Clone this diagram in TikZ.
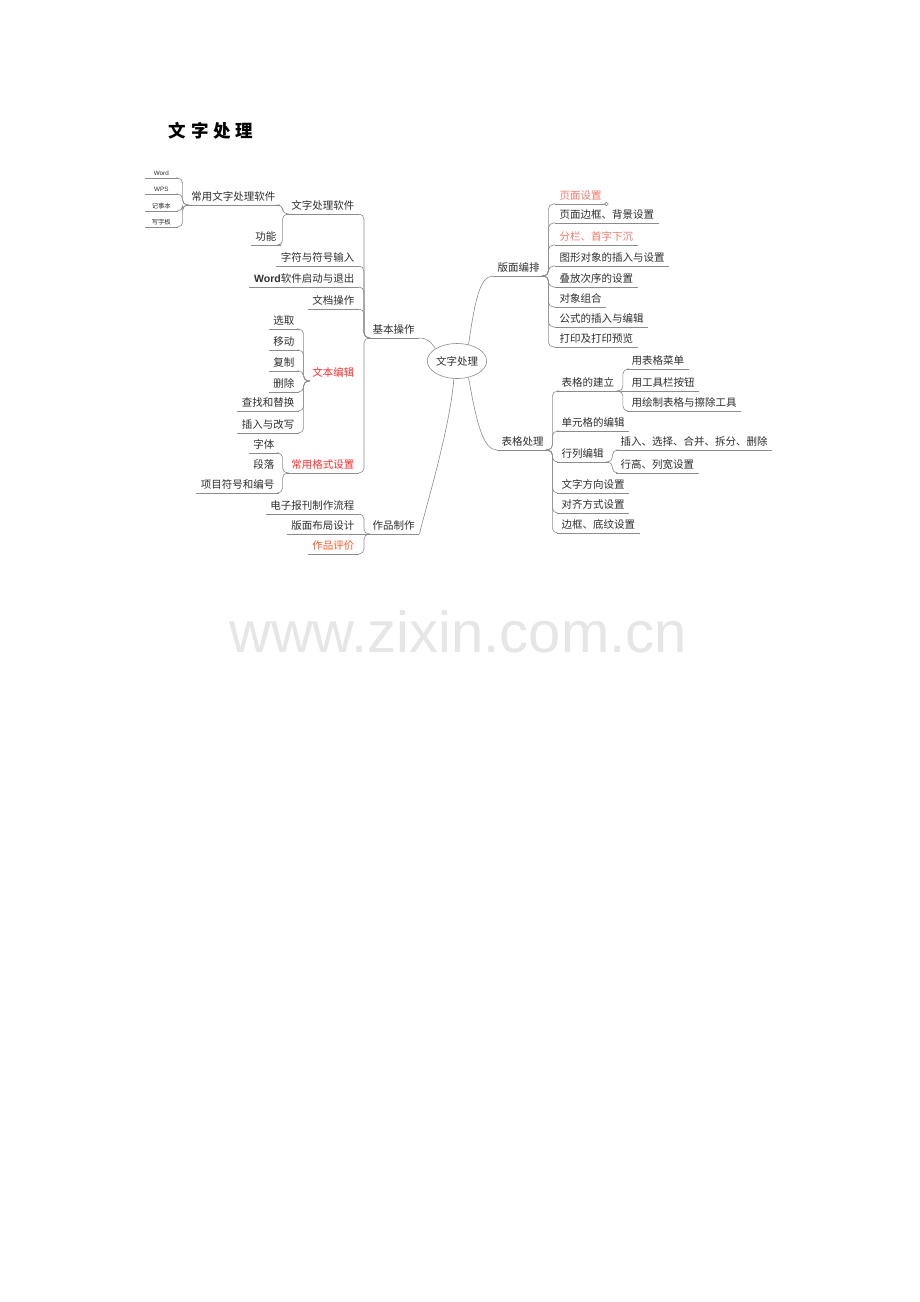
\documentclass[tikz,border=0pt]{standalone}
\usepackage{fontspec}
\usetikzlibrary{shapes.geometric}
\newfontfamily\cjk{Noto Sans CJK SC}
\newfontfamily\lat{Liberation Sans}
\definecolor{ln}{HTML}{8C8C8C}
\definecolor{txt}{HTML}{2E2E2E}
\definecolor{redA}{HTML}{FF2E2E}
\definecolor{redB}{HTML}{F27A6E}
\definecolor{redC}{HTML}{FF5A2A}
\definecolor{wmark}{HTML}{E6E6E6}
\newcommand\lconn[2]{\draw[conn] (#1.south west) -- ++(-4,0) |- (#2.south east);}
\newcommand\rconn[2]{\draw[conn] (#1.south east) -- ++(4,0) |- (#2.south west);}
\tikzset{
  conn/.style={draw=ln, line width=0.6pt, rounded corners=5pt},
  tp/.style={font=\cjk\fontsize{10.5}{12}\selectfont, text=txt, inner xsep=4.5pt, inner ysep=1.5pt, text height=9pt, text depth=2.5pt},
  sm/.style={font=\cjk\fontsize{6.3}{7}\selectfont, text=txt, inner xsep=2pt, inner ysep=1pt, text height=5pt, text depth=1.3pt, minimum width=33pt},
  ul/.style={append after command={(\tikzlastnode.south west) edge[conn] (\tikzlastnode.south east)}},
}
\begin{document}
\begin{tikzpicture}[x=1pt,y=-1pt]
\useasboundingbox[fill=white] (0,0) rectangle (920,1302);

% title
\node[font={\cjk\fontsize{17.5}{20}\selectfont\bfseries\addfontfeatures{LetterSpace=28}}, text=black] (title) at (211,131) {文字处理};

% watermark
\node[font={\lat\fontsize{58}{60}\selectfont}, text=wmark, anchor=base, inner sep=0pt] (wm) at (458,652) {www.zixin.com.cn};

% centre
\node[draw=ln, line width=0.6pt, ellipse, minimum width=55pt, minimum height=35pt, inner sep=0pt, font=\cjk\fontsize{10.5}{12}\selectfont, text=txt] (c) at (457,361) {文字处理};

% ---------------- left: 基本操作
\node[tp,ul,anchor=south west] (jb) at (368,338) {基本操作};
\node[tp,ul,anchor=south east] (rj) at (359,214) {文字处理软件};
\node[tp,ul,anchor=south east] (zf) at (359,266) {字符与符号输入};
\node[tp,ul,anchor=south east] (wd) at (359,287) {{\lat\bfseries Word}软件启动与退出};
\node[tp,ul,anchor=south east] (wo) at (359,309) {文档操作};
\node[tp,anchor=south east,text=redA] (bj) at (359,381) {文本编辑};
\node[tp,ul,anchor=south east,text=redA] (gs) at (359,473) {常用格式设置};

\node[tp,ul,anchor=south east] (cy) at (280,205) {常用文字处理软件};
\node[tp,ul,anchor=south east] (gn) at (281,245) {功能};

\node[sm,ul,anchor=south east,font=\lat\fontsize{6.3}{7}\selectfont] (s1) at (178,178) {Word};
\node[sm,ul,anchor=south east,font=\lat\fontsize{6.3}{7}\selectfont] (s2) at (178,194) {WPS};
\node[sm,ul,anchor=south east] (s3) at (178,211) {记事本};
\node[sm,ul,anchor=south east] (s4) at (178,227) {写字板};

\node[tp,ul,anchor=south east] (xq) at (299,329) {选取};
\node[tp,ul,anchor=south east] (yd) at (299,350) {移动};
\node[tp,ul,anchor=south east] (fz) at (299,371) {复制};
\node[tp,ul,anchor=south east] (sc) at (299,392) {删除};
\node[tp,ul,anchor=south east] (cz) at (299,411) {查找和替换};
\node[tp,ul,anchor=south east] (cr) at (299,433) {插入与改写};

\node[tp,ul,anchor=south east] (zt) at (279,453) {字体};
\node[tp,anchor=south east] (dl) at (279,473) {段落};
\node[tp,ul,anchor=south east] (xm) at (279,493) {项目符号和编号};

% 作品制作
\node[tp,ul,anchor=south west] (jz) at (368,534) {作品制作};
\node[tp,ul,anchor=south east] (dz) at (359,514) {电子报刊制作流程};
\node[tp,ul,anchor=south east] (bm) at (359,534) {版面布局设计};
\node[tp,ul,anchor=south east,text=redC] (zp) at (359,554) {作品评价};

% ---------------- right: 版面编排
\node[tp,ul,anchor=south west] (bp) at (493,276) {版面编排};
\node[tp,ul,anchor=south west,text=redB] (ym) at (555,204) {页面设置};
\node[tp,ul,anchor=south west] (yb) at (555,223) {页面边框、背景设置};
\node[tp,ul,anchor=south west,text=redB] (fl) at (555,245) {分栏、首字下沉};
\node[tp,ul,anchor=south west] (tx) at (555,266) {图形对象的插入与设置};
\node[tp,ul,anchor=south west] (df) at (555,287) {叠放次序的设置};
\node[tp,ul,anchor=south west] (dx) at (555,307) {对象组合};
\node[tp,ul,anchor=south west] (gx) at (555,327) {公式的插入与编辑};
\node[tp,ul,anchor=south west] (dy) at (555,347) {打印及打印预览};

% 表格处理
\node[tp,ul,anchor=south west] (bg) at (497,450) {表格处理};
\node[tp,ul,anchor=south west] (jl) at (557,391) {表格的建立};
\node[tp,ul,anchor=south west] (c1) at (627,369) {用表格菜单};
\node[tp,ul,anchor=south west] (c2) at (627,391) {用工具栏按钮};
\node[tp,ul,anchor=south west] (c3) at (627,411) {用绘制表格与擦除工具};
\node[tp,ul,anchor=south west] (dg) at (557,431) {单元格的编辑};
\node[tp,ul,anchor=south west] (hl) at (557,462) {行列编辑};
\node[tp,ul,anchor=south west] (h1) at (616,450) {插入、选择、合并、拆分、删除};
\node[tp,ul,anchor=south west] (h2) at (616,473) {行高、列宽设置};
\node[tp,ul,anchor=south west] (wf) at (557,493) {文字方向设置};
\node[tp,ul,anchor=south west] (dq) at (557,513) {对齐方式设置};
\node[tp,ul,anchor=south west] (bk) at (557,533) {边框、底纹设置};

% ---------------- connectors
% centre
\draw[conn] (jb.south east) .. controls +(8,0) and +(-4,-6) .. (c.150);
\draw[conn] (c.55) .. controls +(6,-40) and +(-14,0) .. (bp.south west);
\draw[conn] (c.-55) .. controls +(8,45) and +(-14,0) .. (bg.south west);
\draw[conn] (c.-100) .. controls +(-4,50) and +(6,-25) .. (jz.south east);

% 基本操作
\lconn{jb}{rj}
\lconn{jb}{zf}
\lconn{jb}{wd}
\lconn{jb}{wo}
\lconn{jb}{gs}
\lconn{rj}{cy}
\lconn{rj}{gn}
\lconn{cy}{s1}
\lconn{cy}{s2}
\lconn{cy}{s3}
\lconn{cy}{s4}
\lconn{bj}{xq}
\lconn{bj}{yd}
\lconn{bj}{fz}
\lconn{bj}{sc}
\lconn{bj}{cz}
\lconn{bj}{cr}
\lconn{gs}{zt}
\lconn{gs}{xm}
% 作品制作
\lconn{jz}{dz}
\draw[conn] (jz.south west) -- (bm.south east);
\lconn{jz}{zp}
% 版面编排
\rconn{bp}{ym}
\rconn{bp}{yb}
\rconn{bp}{fl}
\rconn{bp}{tx}
\rconn{bp}{df}
\rconn{bp}{dx}
\rconn{bp}{gx}
\rconn{bp}{dy}
\draw[draw=ln, line width=0.6pt, fill=white] (ym.south east) circle (1.8);
% 表格处理
\rconn{bg}{jl}
\rconn{bg}{dg}
\rconn{bg}{hl}
\rconn{bg}{wf}
\rconn{bg}{dq}
\rconn{bg}{bk}
\rconn{jl}{c1}
\draw[conn] (jl.south east) -- (c2.south west);
\rconn{jl}{c3}
\rconn{hl}{h1}
\rconn{hl}{h2}
\end{tikzpicture}
\end{document}
